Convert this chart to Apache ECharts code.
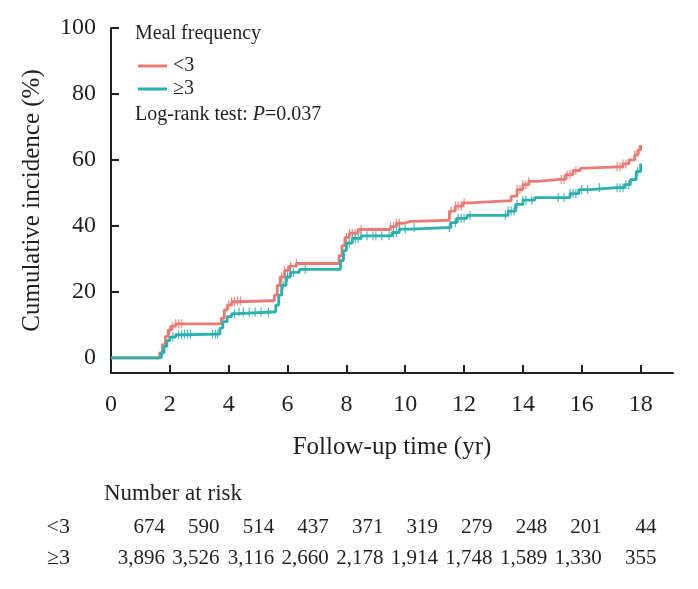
<!DOCTYPE html>
<html>
<head>
<meta charset="utf-8">
<script src="https://cdn.jsdelivr.net/npm/echarts@6/dist/echarts.min.js"></script>
<style>
  html, body { margin: 0; padding: 0; background: #fff; }
  #echarts { width: 698px; height: 589px; }
</style>
</head>
<body>
<div id="echarts"></div>
<script>
// 累积发生率曲线（KM 风格）
var groupNames = ['<3', '≥3'];
var colors = ['#ec7a74', '#2bb0ae'];

// [年, %]
var curveLt3 = [
    [0, 0], [1.55, 0], [1.65, 1.5], [1.75, 4], [1.85, 6.5], [1.95, 8.5], [2.05, 9.6], [2.2, 10.3],
    [3.65, 10.3], [3.75, 12], [3.85, 14.5], [3.95, 16], [4.1, 17], [4.3, 17.3],
    [5.45, 17.3], [5.55, 19], [5.65, 22], [5.75, 24.5], [5.9, 26.5], [6.05, 27.8], [6.3, 28.6],
    [7.65, 28.6], [7.75, 31], [7.85, 34], [7.95, 36.5], [8.1, 37.8], [8.4, 38.9],
    [9.35, 38.9], [9.5, 39.8], [9.7, 40.8], [9.95, 41.4], [10.2, 41.7],
    [11.4, 41.7], [11.5, 44.5], [11.7, 46], [11.95, 47], [12.2, 47.6],
    [13.45, 47.6], [13.6, 49], [13.8, 51], [14.0, 52.5], [14.2, 53.5], [14.5, 54.1],
    [15.25, 54.1], [15.45, 55.5], [15.7, 56.8], [15.95, 57.5], [16.2, 57.9],
    [17.2, 57.9], [17.4, 58.8], [17.6, 60], [17.8, 61.5], [17.9, 63], [18.0, 64.5]
];
var curveGe3 = [
    [0, 0], [1.6, 0], [1.7, 1.5], [1.8, 3.5], [1.9, 5.2], [2.0, 6.3], [2.2, 7], [2.5, 7.2],
    [3.6, 7.2], [3.7, 9], [3.8, 11], [3.95, 12.5], [4.1, 13.4], [4.3, 13.9],
    [5.5, 13.9], [5.6, 16], [5.7, 19], [5.8, 22], [5.95, 24.5], [6.1, 25.9], [6.4, 26.8],
    [7.7, 26.8], [7.8, 29.5], [7.9, 32.5], [8.0, 34.8], [8.2, 36.2], [8.5, 37.0],
    [9.4, 37.0], [9.55, 38], [9.8, 39], [10.2, 39.5],
    [11.4, 39.5], [11.55, 41], [11.75, 42.3], [12.1, 43.2],
    [13.35, 43.2], [13.5, 44.5], [13.75, 46.5], [14.0, 47.8], [14.4, 48.6],
    [15.35, 48.6], [15.6, 49.8], [15.9, 51], [16.3, 51.6],
    [17.2, 51.6], [17.45, 52.5], [17.65, 54], [17.85, 56.5], [18.0, 58.9]
];

// 删失时间点
var censorLt3 = [2.0, 2.1, 2.2, 2.3, 2.4, 4.0, 4.1, 4.2, 4.3, 4.4, 5.8, 5.9, 6.0, 6.1, 6.3,
    8.0, 8.1, 8.2, 8.3, 8.5, 9.5, 9.6, 9.7, 9.8, 11.55, 11.7, 11.8, 11.9, 12.0,
    13.8, 13.9, 14.0, 14.1, 14.2, 15.3, 15.4, 15.5, 15.6, 15.8, 17.2, 17.3, 17.4, 17.5, 17.8, 17.95];
var censorGe3 = [1.75, 2.1, 2.3, 2.4, 2.5, 2.6, 2.7, 3.45, 3.55, 3.62, 4.2, 4.35, 4.5, 4.7, 4.9, 5.1, 5.35,
    5.85, 6.0, 6.1, 6.2, 6.6, 8.1, 8.2, 8.3, 8.4, 8.5, 8.7, 8.9, 9.0, 9.2, 9.45, 9.6, 9.7, 9.8, 10.0, 10.3,
    11.5, 11.7, 11.8, 11.9, 12.0, 12.2, 13.4, 13.5, 13.6, 13.7, 13.8, 14.0, 14.1, 14.3,
    15.2, 15.4, 15.6, 15.7, 15.8, 16.0, 16.2, 16.6, 17.2, 17.3, 17.4, 17.5, 17.6, 17.9];

var xTicks = [0, 2, 4, 6, 8, 10, 12, 14, 16, 18];
var yTicks = [0, 20, 40, 60, 80, 100];

var riskLt3 = ['674', '590', '514', '437', '371', '319', '279', '248', '201', '44'];
var riskGe3 = ['3,896', '3,526', '3,116', '2,660', '2,178', '1,914', '1,748', '1,589', '1,330', '355'];

var FONT = '"Liberation Serif", "DejaVu Serif", serif';
var INK = '#231f20';

function valueAt(curve, t) {
    var v = 0;
    for (var i = 0; i < curve.length; i++) {
        if (curve[i][0] <= t) v = curve[i][1];
    }
    return v;
}
function censorPoints(curve, times) {
    return times.map(function (t) { return [t, valueAt(curve, t)]; });
}

var chart = echarts.init(document.getElementById('echarts'));

var graphics = [
    { type: 'text', left: 135, top: 24, style: { text: 'Meal frequency', font: '20px ' + FONT, fill: INK } },
    {
        type: 'text', left: 135, top: 105,
        style: {
            text: '{n|Log-rank test: }{i|P}{n|=0.037}',
            rich: {
                n: { font: '20px ' + FONT, fill: INK },
                i: { font: 'italic 20px ' + FONT, fill: INK }
            }
        }
    },
    { type: 'text', x: 104, y: 494, style: { text: 'Number at risk', font: '23px ' + FONT, fill: INK, textVerticalAlign: 'middle' } },
    { type: 'text', x: 70, y: 527, style: { text: groupNames[0], font: '22px ' + FONT, fill: INK, textAlign: 'right', textVerticalAlign: 'middle' } },
    { type: 'text', x: 70, y: 558, style: { text: groupNames[1], font: '22px ' + FONT, fill: INK, textAlign: 'right', textVerticalAlign: 'middle' } }
];
var rows = [[riskLt3, 527], [riskGe3, 558]];
rows.forEach(function (r) {
    r[0].forEach(function (s, i) {
        graphics.push({
            type: 'text', x: 165 + i * 54.6, y: r[1],
            style: { text: s, font: '21px ' + FONT, fill: INK, textAlign: 'right', textVerticalAlign: 'middle' }
        });
    });
});

var option = {
    animation: false,
    backgroundColor: '#fff',
    grid: { left: 111, right: 25, top: 28, bottom: 216, containLabel: false, outerBoundsMode: 'none' },
    legend: {
        orient: 'vertical',
        left: 138,
        top: 56,
        padding: 0,
        icon: 'rect',
        itemWidth: 29,
        itemHeight: 3,
        itemGap: 3,
        data: groupNames,
        textStyle: { fontFamily: FONT, fontSize: 20, color: INK, padding: [0, 0, 0, 1] }
    },
    xAxis: {
        type: 'value',
        min: 0,
        max: 19.1,
        name: 'Follow-up time (yr)',
        nameLocation: 'middle',
        nameGap: 62,
        nameTextStyle: { fontFamily: FONT, fontSize: 25, color: INK },
        axisLine: { onZero: false, lineStyle: { color: INK, width: 2 } },
        axisTick: { inside: true, length: 8, lineStyle: { color: INK, width: 2 }, customValues: xTicks.slice(1) },
        axisLabel: { customValues: xTicks, margin: 20, fontFamily: FONT, fontSize: 24, color: INK },
        splitLine: { show: false }
    },
    yAxis: {
        type: 'value',
        min: -4.6,
        max: 100,
        name: 'Cumulative incidence (%)',
        nameLocation: 'middle',
        nameGap: 66,
        nameTextStyle: { fontFamily: FONT, fontSize: 25, color: INK },
        axisLine: { onZero: false, lineStyle: { color: INK, width: 2 } },
        axisTick: { inside: true, length: 8, lineStyle: { color: INK, width: 2 }, customValues: yTicks },
        axisLabel: { customValues: yTicks, margin: 15, fontFamily: FONT, fontSize: 24, color: INK },
        splitLine: { show: false }
    },
    series: [
        {
            name: groupNames[0], type: 'line', step: 'end', data: curveLt3,
            showSymbol: false, symbol: 'none', z: 3,
            itemStyle: { color: colors[0] },
            lineStyle: { color: colors[0], width: 2.8 }
        },
        {
            name: groupNames[1], type: 'line', step: 'end', data: curveGe3,
            showSymbol: false, symbol: 'none', z: 4,
            itemStyle: { color: colors[1] },
            lineStyle: { color: colors[1], width: 2.8 }
        },
        {
            name: groupNames[0] + ' censor', type: 'scatter', data: censorPoints(curveLt3, censorLt3),
            symbol: 'rect', symbolSize: [1.2, 9], z: 3,
            itemStyle: { color: colors[0], opacity: 0.85 }
        },
        {
            name: groupNames[1] + ' censor', type: 'scatter', data: censorPoints(curveGe3, censorGe3),
            symbol: 'rect', symbolSize: [1.2, 9], z: 4,
            itemStyle: { color: colors[1], opacity: 0.85 }
        }
    ],
    graphic: graphics
};
chart.setOption(option);
</script>
</body>
</html>
